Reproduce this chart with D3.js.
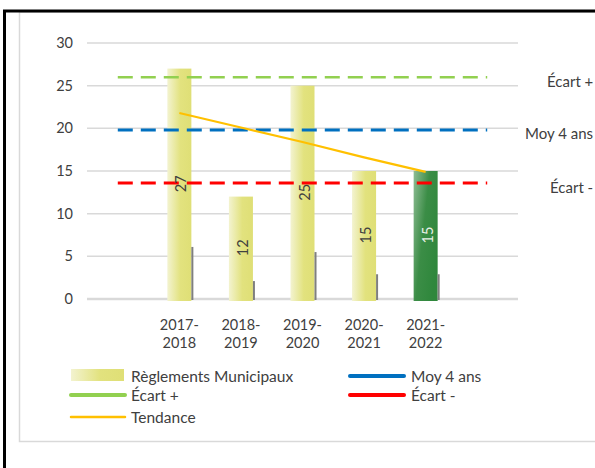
<!DOCTYPE html>
<html><head><meta charset="utf-8">
<script src="https://cdn.jsdelivr.net/npm/d3@7"></script>
<style>
html,body{margin:0;padding:0;background:#fff;}
svg{display:block;font-family:Lato,"Open Sans",sans-serif;}
</style></head>
<body>
<svg id="chart" width="595" height="468"></svg>
<script>
const categories = ["2017-2018","2018-2019","2019-2020","2020-2021","2021-2022"];
const reglements = [27, 12, 25, 15, 15];
const secondary = [6.1, 2.1, 5.5, 2.9, 2.9];
const tendance = [21.8, 20.1, 18.4, 16.6, 14.9];
const moy4ans = 19.8;
const ecartPlus = 26.0;
const ecartMinus = 13.6;
const yTicks = [0, 5, 10, 15, 20, 25, 30];

const svg = d3.select("#chart");
const defs = svg.append("defs");
const gy = defs.append("linearGradient").attr("id","gYellow").attr("x1","0").attr("x2","1").attr("y1","0").attr("y2","0");
gy.append("stop").attr("offset","0").attr("stop-color","#f3f3d0");
gy.append("stop").attr("offset","0.55").attr("stop-color","#e2e27e");
gy.append("stop").attr("offset","1").attr("stop-color","#dfdf76");
const gg = defs.append("linearGradient").attr("id","gGreen").attr("x1","0").attr("x2","1").attr("y1","0").attr("y2","0.6");
gg.append("stop").attr("offset","0").attr("stop-color","#8fbd95");
gg.append("stop").attr("offset","0.5").attr("stop-color","#3b8d46");
gg.append("stop").attr("offset","1").attr("stop-color","#2f873c");

// frames
svg.append("rect").attr("x",19.5).attr("y",12).attr("width",620).attr("height",429.5)
  .attr("fill","none").attr("stroke","#d9d9d9").attr("stroke-width",1.5);
svg.append("path").attr("d","M4.5,468 V11 H600").attr("fill","none").attr("stroke","#000").attr("stroke-width",3);

const slots = ["start", ...categories, "end"];
const x = d3.scaleBand().domain(slots).range([87, 518]).padding(0);
const y = d3.scaleLinear().domain([0, 30]).range([299, 43]);
const cx = c => x(c) + x.bandwidth()/2;
const barW = x.bandwidth()*0.39;

// gridlines
svg.append("g").selectAll("line").data(yTicks).join("line")
  .attr("x1",87).attr("x2",518).attr("y1",d=>y(d)).attr("y2",d=>y(d))
  .attr("stroke","#d9d9d9").attr("stroke-width",d=>d===0?2.5:1.5);

// y axis labels
svg.append("g").selectAll("text").data(yTicks).join("text")
  .attr("x",73).attr("y",d=>y(d)+5).attr("text-anchor","end")
  .attr("font-size",14.5).attr("fill","#404040").text(d=>d);

// bars
svg.append("g").selectAll("rect").data(categories).join("rect")
  .attr("x",c=>cx(c)-barW/2).attr("width",barW)
  .attr("y",(c,i)=>y(reglements[i])).attr("height",(c,i)=>y(0)-y(reglements[i])+2)
  .attr("fill",(c,i)=>i===4?"url(#gGreen)":"url(#gYellow)");

// secondary thin bars
svg.append("g").selectAll("rect").data(categories).join("rect")
  .attr("x",c=>cx(c)+barW/2).attr("width",2)
  .attr("y",(c,i)=>y(secondary[i])).attr("height",(c,i)=>y(0)-y(secondary[i])+1)
  .attr("fill","#7f7f7f");

// reference dashed lines
const refs = [
  {v: ecartPlus, c: "#92d050", w: 2.5},
  {v: moy4ans, c: "#0070c0", w: 3},
  {v: ecartMinus, c: "#ff0000", w: 3}
];
svg.append("g").selectAll("line").data(refs).join("line")
  .attr("x1",cx("start")).attr("x2",cx("end"))
  .attr("y1",d=>y(d.v)).attr("y2",d=>y(d.v))
  .attr("stroke",d=>d.c).attr("stroke-width",d=>d.w).attr("stroke-dasharray","15,8");

// trend line
svg.append("path").datum(tendance)
  .attr("d", d3.line().x((d,i)=>cx(categories[i])).y(d=>y(d)))
  .attr("fill","none").attr("stroke","#ffc000").attr("stroke-width",2.2);

// value labels (rotated)
svg.append("g").selectAll("text").data(categories).join("text")
  .attr("transform",(c,i)=>`translate(${cx(c)+7},${(y(reglements[i])+y(0))/2}) rotate(-90)`)
  .attr("text-anchor","middle").attr("font-size",14.5)
  .attr("fill",(c,i)=>i===4?"#e8f0e8":"#404040")
  .text((c,i)=>reglements[i]);

// x labels
const xl = svg.append("g").selectAll("text").data(categories).join("text")
  .attr("x",c=>cx(c)).attr("y",330).attr("text-anchor","middle")
  .attr("font-size",14.5).attr("fill","#404040");
xl.append("tspan").attr("x",c=>cx(c)).attr("dy",0).text(c=>c.split("-")[0]+"-");
xl.append("tspan").attr("x",c=>cx(c)).attr("dy",18).text(c=>c.split("-")[1]);

// right labels
const rl = [
  {t:"Écart +", x:547, y:87},
  {t:"Moy 4 ans", x:525, y:139},
  {t:"Écart -", x:550, y:193}
];
svg.append("g").selectAll("text").data(rl).join("text")
  .attr("x",d=>d.x).attr("y",d=>d.y).attr("font-size",15).attr("fill","#404040").text(d=>d.t);

// legend
const leg = svg.append("g");
leg.append("rect").attr("x",71).attr("y",369).attr("width",53).attr("height",12).attr("fill","url(#gYellow)");
leg.append("text").attr("x",131).attr("y",382).attr("font-size",15.5).attr("fill","#404040").text("Règlements Municipaux");
const legLines = [
  {x:71, y:395, c:"#92d050", w:4, t:"Écart +"},
  {x:350, y:376, c:"#0070c0", w:4, t:"Moy 4 ans"},
  {x:350, y:395, c:"#ff0000", w:4, t:"Écart -"},
  {x:71, y:417, c:"#ffc000", w:2.5, t:"Tendance"}
];
legLines.forEach(d=>{
  leg.append("line").attr("x1",d.x).attr("x2",d.x+54).attr("y1",d.y).attr("y2",d.y)
    .attr("stroke",d.c).attr("stroke-width",d.w).attr("stroke-linecap","round");
  leg.append("text").attr("x",d.x + (d.x===71?60:61)).attr("y",d.y+6).attr("font-size",15.5).attr("fill","#404040").text(d.t);
});
</script>
</body></html>
